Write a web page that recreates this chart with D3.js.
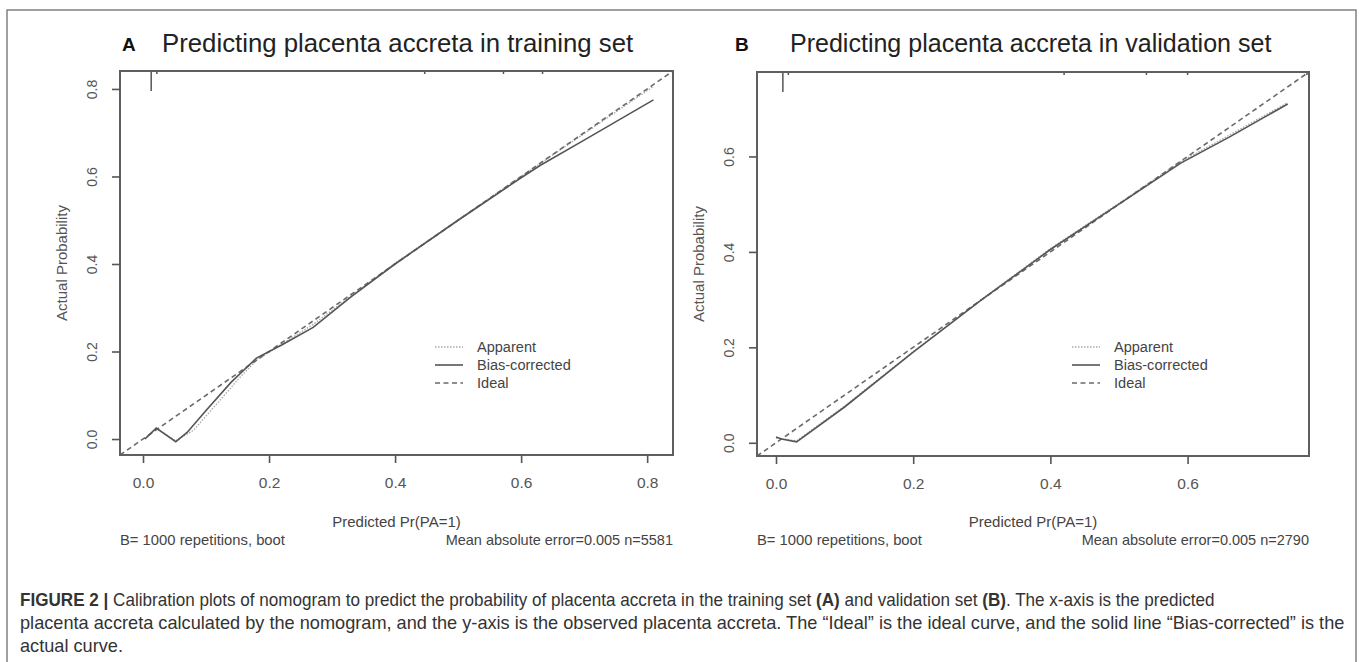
<!DOCTYPE html>
<html><head><meta charset="utf-8">
<script src="https://cdn.jsdelivr.net/npm/d3@7"></script>
<style>body{margin:0;background:#fff}svg{display:block}text{font-family:"Liberation Sans",Arial,sans-serif}</style>
</head><body>
<svg id="c" width="1360" height="662"></svg>
<script>
// ---------- data ----------
const panelLetters = ["A", "B"];
const panelTitles = ["Predicting placenta accreta in training set", "Predicting placenta accreta in validation set"];
const limA = [-0.0365, 0.841];
const limB = [-0.0277, 0.777];
const xTicksA = [0, 0.2, 0.4, 0.6, 0.8];
const yTicksA = [0, 0.2, 0.4, 0.6, 0.8];
const xTicksB = [0, 0.2, 0.4, 0.6];
const yTicksB = [0, 0.2, 0.4, 0.6];
const tickLabelsA = ["0.0", "0.2", "0.4", "0.6", "0.8"];
const tickLabelsB = ["0.0", "0.2", "0.4", "0.6"];
const biasA = [[0.003,0.0],[0.021,0.025],[0.052,-0.006],[0.07,0.015],[0.10,0.065],[0.14,0.13],[0.18,0.185],[0.22,0.215],[0.27,0.255],[0.33,0.325],[0.40,0.40],[0.50,0.50],[0.60,0.597],[0.63,0.625],[0.70,0.683],[0.81,0.775]];
const apparentA = [[0.003,0.0],[0.021,0.024],[0.052,-0.004],[0.08,0.02],[0.12,0.085],[0.15,0.135],[0.18,0.18],[0.27,0.262],[0.40,0.402],[0.60,0.60],[0.70,0.698],[0.81,0.806]];
const biasB = [[0.0,0.012],[0.008,0.008],[0.03,0.002],[0.10,0.075],[0.20,0.19],[0.30,0.30],[0.40,0.405],[0.50,0.50],[0.59,0.586],[0.66,0.64],[0.746,0.71]];
const apparentB = [[0.0,0.01],[0.03,0.004],[0.10,0.077],[0.20,0.191],[0.30,0.301],[0.40,0.407],[0.50,0.502],[0.59,0.589],[0.66,0.644],[0.746,0.713]];
const rugXA = [0.013, 0.022, 0.447, 0.572, 0.634];
const rugFreqA = [1, 0.15, 0.15, 0.15, 0.15];
const rugXB = [0.010, 0.018, 0.42, 0.54, 0.60, 0.774];
const rugFreqB = [1, 0.15, 0.15, 0.15, 0.15, 0.15];
const legendLabels = ["Apparent", "Bias-corrected", "Ideal"];
const xAxisTitle = "Predicted Pr(PA=1)";
const yAxisTitle = "Actual Probability";
const footLeft = "B= 1000 repetitions, boot";
const footRight = ["Mean absolute error=0.005 n=5581", "Mean absolute error=0.005 n=2790"];
const captionLines = [
  [["FIGURE 2 |", true], [" Calibration plots of nomogram to predict the probability of placenta accreta in the training set ", false], ["(A)", true], [" and validation set ", false], ["(B)", true], [". The x-axis is the predicted", false]],
  [["placenta accreta calculated by the nomogram, and the y-axis is the observed placenta accreta. The \u201cIdeal\u201d is the ideal curve, and the solid line \u201cBias-corrected\u201d is the", false]],
  [["actual curve.", false]]
];

// ---------- layout ----------
const svg = d3.select("#c");
svg.append("rect").attr("x", 7).attr("y", 10).attr("width", 1349).attr("height", 700)
  .attr("fill", "none").attr("stroke", "#808080").attr("stroke-width", 1.5);

const panels = [
  {box: {l: 120, r: 673, t: 71, b: 455}, lim: limA, xt: xTicksA, yt: yTicksA, lab: tickLabelsA, bias: biasA, app: apparentA, rx: rugXA, rf: rugFreqA, titleX: 162, letterX: 122, titleSx: 0.973},
  {box: {l: 757, r: 1309, t: 72, b: 456}, lim: limB, xt: xTicksB, yt: yTicksB, lab: tickLabelsB, bias: biasB, app: apparentB, rx: rugXB, rf: rugFreqB, titleX: 790, letterX: 735, titleSx: 0.945}
];

function txt(g, x, y, s, o) {
  o = o || {};
  return g.append("text")
    .attr("transform", `translate(${x},${y})` + (o.rot ? ` rotate(${o.rot})` : "") + ` scale(${o.sx || 1},1)`)
    .attr("font-size", o.size || 14)
    .attr("fill", o.fill || "#444")
    .attr("font-weight", o.bold ? "bold" : "normal")
    .attr("text-anchor", o.anchor || "start")
    .attr("dominant-baseline", o.base || "auto")
    .text(s);
}

panels.forEach((p, i) => {
  const g = svg.append("g");
  const x = d3.scaleLinear().domain(p.lim).range([p.box.l, p.box.r]);
  const y = d3.scaleLinear().domain(p.lim).range([p.box.b, p.box.t]);

  // titles
  txt(g, p.letterX, 51, panelLetters[i], {size: 19, bold: true, fill: "#111"});
  txt(g, p.titleX, 52, panelTitles[i], {size: 26.5, fill: "#222", sx: p.titleSx});

  // rug (spike histogram) at top
  const rh = d3.scaleLinear().domain([0, 1]).range([0, 20]);
  g.selectAll("line.rug").data(p.rx).join("line")
    .attr("x1", d => x(d)).attr("x2", d => x(d))
    .attr("y1", y(p.lim[1])).attr("y2", (d, k) => y(p.lim[1]) + rh(p.rf[k]))
    .attr("stroke", "#555").attr("stroke-width", 1.5);

  // curves
  const line = d3.line().x(d => x(d[0])).y(d => y(d[1]));
  g.append("path").datum(p.app).attr("d", line)
    .attr("fill", "none").attr("stroke", "#a8a8a8").attr("stroke-width", 1.3).attr("stroke-dasharray", "1.5,1.5");
  g.append("path").datum([[p.lim[0], p.lim[0]], [p.lim[1], p.lim[1]]]).attr("d", line)
    .attr("fill", "none").attr("stroke", "#6a6a6a").attr("stroke-width", 1.6).attr("stroke-dasharray", "5,3.5");
  g.append("path").datum(p.bias).attr("d", line)
    .attr("fill", "none").attr("stroke", "#555").attr("stroke-width", 1.6);

  // box
  g.append("rect").attr("x", p.box.l).attr("y", p.box.t)
    .attr("width", p.box.r - p.box.l).attr("height", p.box.b - p.box.t)
    .attr("fill", "none").attr("stroke", "#5f5f5f").attr("stroke-width", 2);

  // x axis
  const xa = d3.axisBottom(x).tickValues(p.xt).tickSize(8).tickFormat((d, k) => p.lab[k]);
  const gx = g.append("g").attr("transform", `translate(0,${p.box.b})`).call(xa);
  gx.select(".domain").remove();
  gx.selectAll(".tick line").attr("stroke", "#555").attr("stroke-width", 1.6);
  gx.selectAll(".tick text").attr("font-size", 15.5).attr("fill", "#555").attr("y", 22)
    .attr("font-family", "Liberation Sans, Arial, sans-serif");

  // y axis
  const ya = d3.axisLeft(y).tickValues(p.yt).tickSize(8).tickFormat((d, k) => p.lab[k]);
  const gy = g.append("g").attr("transform", `translate(${p.box.l},0)`).call(ya);
  gy.select(".domain").remove();
  gy.selectAll(".tick line").attr("stroke", "#555").attr("stroke-width", 1.6);
  gy.selectAll(".tick text").attr("font-size", 14).attr("fill", "#555")
    .attr("font-family", "Liberation Sans, Arial, sans-serif")
    .attr("x", 0).attr("dy", null).attr("text-anchor", "middle").attr("dominant-baseline", "central")
    .attr("transform", "translate(-28,0) rotate(-90)");

  // axis titles
  const cx = (p.box.l + p.box.r) / 2, cy = (p.box.t + p.box.b) / 2;
  txt(g, cx, 521, xAxisTitle, {size: 15, anchor: "middle", base: "central", fill: "#444"});
  txt(g, p.box.l - 59, cy, yAxisTitle, {size: 15, anchor: "middle", base: "central", rot: -90, fill: "#555"});
  txt(g, p.box.l, 540, footLeft, {size: 14.8, base: "central", fill: "#444"});
  txt(g, p.box.r, 540, footRight[i], {size: 14.5, base: "central", anchor: "end", fill: "#444"});

  // legend
  const styles = [
    {c: "#a8a8a8", w: 1.3, da: "1.5,1.5"},
    {c: "#555", w: 1.6, da: null},
    {c: "#6a6a6a", w: 1.6, da: "5,3.5"}
  ];
  legendLabels.forEach((lab, k) => {
    const ly = 347 + k * 18;
    g.append("line").attr("x1", p.box.l + 315).attr("x2", p.box.l + 343).attr("y1", ly).attr("y2", ly)
      .attr("stroke", styles[k].c).attr("stroke-width", styles[k].w).attr("stroke-dasharray", styles[k].da);
    txt(g, p.box.l + 357, ly, lab, {size: 15, base: "central", fill: "#444", sx: 0.97});
  });
});

// caption
const cap = svg.append("g");
const capY = [606, 629, 652];
const capWidth = [1195, 1325, null];
const capTexts = captionLines.map((parts, k) => {
  const t = cap.append("text").attr("x", 0).attr("y", 0).attr("font-size", 18).attr("fill", "#333");
  parts.forEach(([s, b]) => t.append("tspan").attr("font-weight", b ? "bold" : "normal").text(s));
  return t;
});
const sx2 = 1325 / capTexts[1].node().getComputedTextLength();
capTexts.forEach((t, k) => {
  const sx = capWidth[k] ? capWidth[k] / t.node().getComputedTextLength() : sx2;
  t.attr("transform", `translate(20,${capY[k]}) scale(${sx},1)`);
});
</script>
</body></html>
